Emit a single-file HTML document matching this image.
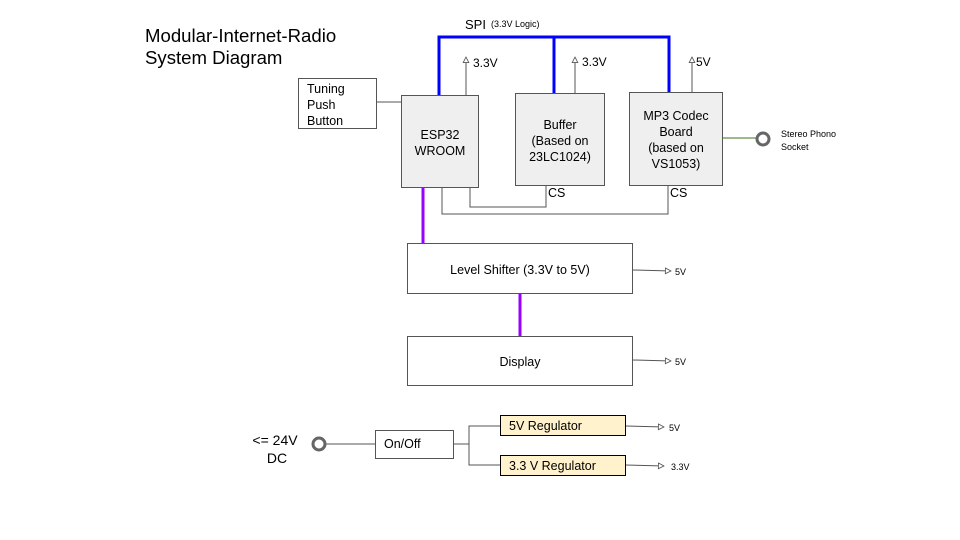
<!DOCTYPE html>
<html><head><meta charset="utf-8"><style>
html,body{margin:0;padding:0;background:#fff}
svg{display:block;font-family:"Liberation Sans",Arial,sans-serif}
</style></head><body>
<svg width="960" height="540" viewBox="0 0 960 540" xmlns="http://www.w3.org/2000/svg">
<defs>
<marker id="a" viewBox="0 0 10 10" refX="9" refY="5" markerWidth="7" markerHeight="7" markerUnits="userSpaceOnUse" orient="auto"><path d="M1,1 L9,5 L1,9 Z" fill="#fff" stroke="#555" stroke-width="1.2"/></marker>
</defs>
<rect width="960" height="540" fill="#fff"/>
<text x="145" y="42" font-size="18.6" fill="#000">Modular-Internet-Radio</text>
<text x="145" y="64" font-size="18.6" fill="#000">System Diagram</text>

<path d="M439,95 V37 H669 V92 M554,37 V93" fill="none" stroke="#0000ff" stroke-width="3"/>
<text x="465" y="29" font-size="13">SPI</text>
<text x="491" y="27" font-size="9">(3.3V Logic)</text>

<g stroke="#555" stroke-width="1" fill="none">
<line x1="466" y1="95" x2="466" y2="57" marker-end="url(#a)"/>
<line x1="575" y1="93" x2="575" y2="57" marker-end="url(#a)"/>
<line x1="692" y1="92" x2="692" y2="57" marker-end="url(#a)"/>
<line x1="377" y1="102" x2="401" y2="102"/>
<path d="M470,187 V207 H546 V185"/>
<path d="M442,187 V214 H668 V185"/>
<line x1="633" y1="270" x2="671" y2="271" marker-end="url(#a)"/>
<line x1="633" y1="360" x2="671" y2="361" marker-end="url(#a)"/>
<line x1="326" y1="444" x2="375" y2="444"/>
<path d="M453,444 H469 V426 H500 M469,444 V465 H500"/>
<line x1="625" y1="426" x2="664" y2="427" marker-end="url(#a)"/>
<line x1="625" y1="465" x2="664" y2="466" marker-end="url(#a)"/>
</g>
<text x="473" y="67" font-size="12">3.3V</text>
<text x="582" y="66" font-size="12">3.3V</text>
<text x="696" y="66" font-size="12">5V</text>

<line x1="423" y1="187" x2="423" y2="243" stroke="#9900ff" stroke-width="3"/>
<line x1="520" y1="293" x2="520" y2="336" stroke="#9900ff" stroke-width="3"/>

<rect x="298.5" y="78.5" width="78" height="50" fill="#fff" stroke="#555"/>
<text x="307" y="93" font-size="12.5">Tuning</text>
<text x="307" y="109" font-size="12.5">Push</text>
<text x="307" y="125" font-size="12.5">Button</text>

<rect x="401.5" y="95.5" width="77" height="92" fill="#efefef" stroke="#555"/>
<text x="440" y="139" font-size="12.5" text-anchor="middle">ESP32</text>
<text x="440" y="155" font-size="12.5" text-anchor="middle">WROOM</text>

<rect x="515.5" y="93.5" width="89" height="92" fill="#efefef" stroke="#555"/>
<text x="560" y="129" font-size="12.5" text-anchor="middle">Buffer</text>
<text x="560" y="145" font-size="12.5" text-anchor="middle">(Based on</text>
<text x="560" y="161" font-size="12.5" text-anchor="middle">23LC1024)</text>

<rect x="629.5" y="92.5" width="93" height="93" fill="#efefef" stroke="#555"/>
<text x="676" y="120" font-size="12.5" text-anchor="middle">MP3 Codec</text>
<text x="676" y="136" font-size="12.5" text-anchor="middle">Board</text>
<text x="676" y="152" font-size="12.5" text-anchor="middle">(based on</text>
<text x="676" y="168" font-size="12.5" text-anchor="middle">VS1053)</text>

<text x="548" y="197" font-size="12.5">CS</text>
<text x="670" y="197" font-size="12.5">CS</text>

<line x1="722" y1="138" x2="756" y2="138" stroke="#38761d" stroke-width="1"/>
<circle cx="763" cy="139" r="6" fill="#fff" stroke="#666" stroke-width="3"/>
<text x="781" y="137" font-size="9">Stereo Phono</text>
<text x="781" y="150" font-size="9">Socket</text>

<rect x="407.5" y="243.5" width="225" height="50" fill="#fff" stroke="#555"/>
<text x="520" y="274" font-size="12.5" text-anchor="middle">Level Shifter (3.3V to 5V)</text>
<text x="675" y="275" font-size="9">5V</text>

<rect x="407.5" y="336.5" width="225" height="49" fill="#fff" stroke="#555"/>
<text x="520" y="366" font-size="12.5" text-anchor="middle">Display</text>
<text x="675" y="365" font-size="9">5V</text>

<text x="275" y="445" font-size="14" text-anchor="middle">&lt;= 24V</text>
<text x="277" y="463" font-size="14" text-anchor="middle">DC</text>
<circle cx="319" cy="444" r="6" fill="#fff" stroke="#666" stroke-width="3"/>

<rect x="375.5" y="430.5" width="78" height="28" fill="#fff" stroke="#555"/>
<text x="384" y="448" font-size="12.5">On/Off</text>

<rect x="500.5" y="415.5" width="125" height="20" fill="#fff2cc" stroke="#000"/>
<text x="509" y="430" font-size="12.5">5V Regulator</text>
<rect x="500.5" y="455.5" width="125" height="20" fill="#fff2cc" stroke="#000"/>
<text x="509" y="470" font-size="12.5">3.3 V Regulator</text>
<text x="669" y="431" font-size="9">5V</text>
<text x="671" y="470" font-size="9">3.3V</text>
</svg>
</body></html>
